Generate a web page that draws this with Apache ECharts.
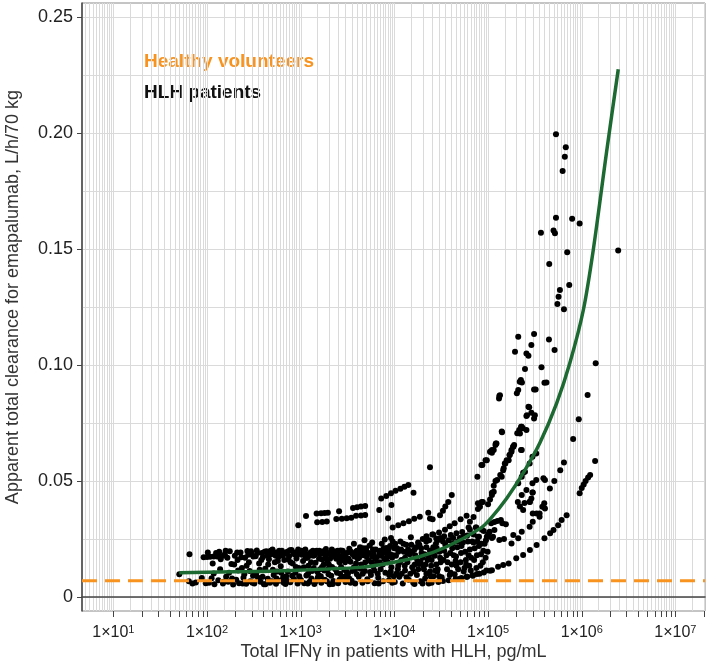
<!DOCTYPE html>
<html><head><meta charset="utf-8">
<script src="https://cdn.jsdelivr.net/npm/echarts@6/dist/echarts.min.js"></script>
<style>html,body{margin:0;padding:0;background:#fff}#c{width:709px;height:664px}</style>
</head><body><div id="c"></div>
<script>
// ---------- axis / tick data ----------
const xMin = 4.63, xMax = 2.07e7;
const yMin = -0.006, yMax = 0.256;
const xTickExponents = [1, 2, 3, 4, 5, 6, 7];
const yTickLabels = [0, 0.05, 0.10, 0.15, 0.20, 0.25];
const yGridValues = [0, 0.025, 0.05, 0.075, 0.1, 0.125, 0.15, 0.175, 0.2, 0.225, 0.25];
const healthyCL = 0.007;

// ---------- model curve ----------
const fitX = [50.6, 288, 834, 4295, 7015, 18750, 36140, 82040, 104700, 157800, 237700, 358100, 539500, 748200, 1038000, 1327000, 1845000, 2455000];
const fitY = [0.0105, 0.0110, 0.0115, 0.0128, 0.0139, 0.0175, 0.0217, 0.0295, 0.0335, 0.0425, 0.0535, 0.0665, 0.0835, 0.1010, 0.1235, 0.1495, 0.1920, 0.2275];

const lowEnd = [[50.6,0.0098],[65,0.0185],[64,0.0068],[70,0.0058],[76,0.0063],[88,0.0082],[97,0.0060],[92,0.0172],[100,0.0173],[108,0.0174],[118,0.0175],[128,0.0175],[140,0.0176],[150,0.0178]];
const bandA = [[105,0.0062],[112,0.0081],[120,0.0055],[125,0.0190],[132,0.0072],[140,0.0163],[148,0.0058],[155,0.0185],[160,0.0088],[168,0.0066],[175,0.0197],[182,0.0143],[190,0.0054],[198,0.0178],[205,0.0075],[212,0.0160],[220,0.0060],[228,0.0192],[236,0.0125],[245,0.0083],[255,0.0170],[262,0.0057],[270,0.0199],[280,0.0150],[290,0.0068],[300,0.0185],[310,0.0092],
[115,0.0145],[135,0.0195],[150,0.0066],[165,0.0170],[185,0.0080],[210,0.0192],[240,0.0058],[265,0.0135],[295,0.0198],[305,0.0062]];
const bandB = [[320,0.0058],[330,0.0176],[340,0.0201],[350,0.0083],[360,0.0145],[372,0.0066],[385,0.0190],[395,0.0172],[405,0.0055],[418,0.0122],[430,0.0198],[445,0.0079],[458,0.0163],[470,0.0062],[485,0.0185],[500,0.0205],[515,0.0095],[530,0.0150],[545,0.0057],[560,0.0192],[578,0.0173],[595,0.0070],[612,0.0133],[630,0.0200],[650,0.0085],[668,0.0160],[688,0.0056],[708,0.0188],[730,0.0110],[752,0.0176],[775,0.0064],[798,0.0203],[822,0.0145],[848,0.0078],[875,0.0192],[900,0.0166],[928,0.0059],[955,0.0125],[985,0.0198],
[335,0.0100],[380,0.0160],[440,0.0180],[490,0.0068],[540,0.0178],[600,0.0188],[660,0.0062],[720,0.0195],[780,0.0150],[860,0.0185],[940,0.0205],[990,0.0075],[420,0.0055],[560,0.0110],[700,0.0090],[880,0.0105]];
const bandC = [[1010,0.0072],[1030,0.0182],[1060,0.0155],[1090,0.0060],[1120,0.0205],[1150,0.0093],[1180,0.0170],[1210,0.0135],[1250,0.0066],[1280,0.0193],[1320,0.0112],[1360,0.0178],[1400,0.0056],[1440,0.0148],[1480,0.0200],[1520,0.0083],[1570,0.0165],[1610,0.0120],[1660,0.0062],[1710,0.0188],[1760,0.0140],[1810,0.0075],[1860,0.0207],[1920,0.0158],[1980,0.0098],[2040,0.0055],[2100,0.0183],[2160,0.0130],[2230,0.0069],[2300,0.0196],[2370,0.0172],[2440,0.0105],[2510,0.0060],[2590,0.0150],[2670,0.0201],[2750,0.0087],[2830,0.0176],[2920,0.0118],[3010,0.0065],[3100,0.0190],
[1150,0.0185],[1400,0.0180],[1700,0.0162],[2000,0.0190],[2400,0.0165],[2900,0.0183],[1300,0.0080],[1900,0.0068],[2600,0.0075],
[1100,0.0195],[1350,0.0200],[1600,0.0185],[1850,0.0175],[2150,0.0205],[2450,0.0190],[2800,0.0200],[3050,0.0170],[1200,0.0100],[1550,0.0095],[2000,0.0140],[2700,0.0130],[1450,0.0068],[2200,0.0056],[2950,0.0088]];
const bandD = [[3200,0.0100],[3300,0.0208],[3400,0.0152],[3500,0.0070],[3600,0.0185],[3700,0.0128],[3820,0.0058],[3930,0.0196],[4050,0.0166],[4170,0.0088],[4300,0.0215],[4430,0.0140],[4560,0.0062],[4700,0.0180],[4840,0.0112],[4990,0.0200],[5140,0.0077],[5300,0.0158],[5460,0.0222],[5620,0.0095],[5790,0.0175],[5970,0.0132],[6150,0.0060],[6330,0.0205],[6520,0.0148],[6720,0.0083],[6920,0.0190],[7130,0.0120],[7340,0.0230],[7560,0.0068],[7790,0.0165],[8020,0.0105],[8260,0.0212],[8510,0.0150],[8770,0.0073],[9030,0.0185],[9300,0.0128],[9580,0.0240],[9870,0.0090],
[3500,0.0190],[4000,0.0200],[4500,0.0195],[5000,0.0210],[6000,0.0185],[7000,0.0200],[8000,0.0190],[9000,0.0220],[3800,0.0118],[5500,0.0108],[7500,0.0140],[8500,0.0175],[6500,0.0172],[4200,0.0170],[3300,0.0080],[5200,0.0068],[9500,0.0062],[3700,0.0230],[5800,0.0235],[7900,0.0248],[9200,0.0255],[4800,0.0245],
[3400,0.0062],[4600,0.0100],[6800,0.0058],[8800,0.0095],[3900,0.0145],[6100,0.0115],[7700,0.0210],[9700,0.0180]];
const bandE = [[10100,0.0065],[10400,0.0178],[10700,0.0210],[11000,0.0135],[11300,0.0088],[11600,0.0240],[11900,0.0160],[12300,0.0058],[12600,0.0195],[13000,0.0115],[13400,0.0225],[13800,0.0150],[14200,0.0075],[14600,0.0185],[15000,0.0258],[15500,0.0128],[15900,0.0062],[16400,0.0205],[16900,0.0170],[17400,0.0095],[17900,0.0235],[18400,0.0142],[19000,0.0068],[19500,0.0190],[20100,0.0250],[20700,0.0120],[21300,0.0080],[22000,0.0215],[22600,0.0160],[23300,0.0058],[24000,0.0200],[24700,0.0135],[25400,0.0270],[26200,0.0090],[27000,0.0178],[27800,0.0230],[28600,0.0110],[29500,0.0065],[30300,0.0195],[31200,0.0150],
[12000,0.0100],[14000,0.0205],[16000,0.0110],[18000,0.0120],[20000,0.0170],[22000,0.0100],[25000,0.0160],[28000,0.0140],[30000,0.0090],[11000,0.0195],[13000,0.0170],[17000,0.0215],[19000,0.0150],[21000,0.0185],[24000,0.0110],[26000,0.0215],[29000,0.0245],
[16400,0.0056],[20000,0.0059],[25000,0.0062],[33000,0.0069],
[10500,0.0100],[11500,0.0150],[12500,0.0230],[13500,0.0085],[15500,0.0195],[16500,0.0140],[18500,0.0225],[21500,0.0140],[23500,0.0245],[27500,0.0200],[29000,0.0120],[31000,0.0255],
[22000,0.0262],[26000,0.0270],[30000,0.0278],[28000,0.0252]];
const bandF = [[32000,0.0085],[33500,0.0160],[35000,0.0225],[36500,0.0120],[38000,0.0072],[39500,0.0190],[41000,0.0140],[42500,0.0255],[44000,0.0098],[45500,0.0175],[47000,0.0215],[49000,0.0078],[51000,0.0150],[53000,0.0280],[55000,0.0110],[57000,0.0195],[59000,0.0088],[61000,0.0240],[63000,0.0135],[66000,0.0170],[69000,0.0092],[72000,0.0210],[75000,0.0125],[78000,0.0260],[81000,0.0100],[84000,0.0185],[88000,0.0150],[92000,0.0230],[96000,0.0115],[99000,0.0195],
[34000,0.0200],[40000,0.0105],[46000,0.0135],[52000,0.0220],[58000,0.0160],[64000,0.0205],[70000,0.0270],[76000,0.0180],[86000,0.0290],[94000,0.0170],[37000,0.0150],[43000,0.0180],[48000,0.0240],[56000,0.0125],[62000,0.0300],[68000,0.0240],[74000,0.0300],[80000,0.0220],
[34000,0.0262],[40000,0.0268],[46000,0.0275],[38000,0.0245],[42000,0.0230],[50000,0.0255],[55000,0.0262],
[64000,0.0290],[70000,0.0235],[75000,0.0300],[80000,0.0260],[90000,0.0285],[100000,0.0270],[95000,0.0245],[85000,0.0230],[110000,0.0255],[60000,0.0265]];
const bandG = [[102,0.0192],[118,0.0102],[138,0.0120],[158,0.0200],[172,0.0105],[195,0.0140],[215,0.0115],[232,0.0172],[250,0.0098],[275,0.0182],[285,0.0112],[312,0.0175],
[345,0.0190],[365,0.0118],[392,0.0088],[412,0.0195],[450,0.0140],[478,0.0200],[505,0.0118],[525,0.0192],[552,0.0080],[570,0.0155],[590,0.0200],[620,0.0105],[645,0.0178],[680,0.0190],[715,0.0070],[740,0.0162],[765,0.0202],[810,0.0092],[835,0.0188],[890,0.0130],[915,0.0180],[965,0.0090],
[1020,0.0200],[1080,0.0128],[1130,0.0168],[1190,0.0058],[1240,0.0178],[1290,0.0150],[1380,0.0125],[1420,0.0195],[1500,0.0110],[1580,0.0200],[1640,0.0090],[1690,0.0130],[1740,0.0198],[1790,0.0115],[1880,0.0190],[1950,0.0120],[2060,0.0165],[2120,0.0092],[2260,0.0180],[2340,0.0120],[2480,0.0200],[2560,0.0178],[2640,0.0100],[2720,0.0160],[2860,0.0190],[2980,0.0150],[3080,0.0110],
[3250,0.0165],[3450,0.0195],[3550,0.0112],[3750,0.0175],[3980,0.0098],[4100,0.0185],[4350,0.0122],[4650,0.0210],[4900,0.0150],[5050,0.0175],[5350,0.0190],[5700,0.0150],[5900,0.0205],[6250,0.0165],[6650,0.0100],[6950,0.0150],[7250,0.0178],[7650,0.0195],[8150,0.0160],[8650,0.0205],[9150,0.0110],[9450,0.0170],[9950,0.0210],
[10200,0.0230],[10900,0.0120],[11800,0.0205],[12900,0.0135],[13700,0.0190],[14800,0.0100],[15200,0.0225],[16700,0.0180],[17700,0.0155],[19300,0.0210],[20400,0.0135],[21900,0.0240],[23000,0.0175],[24400,0.0090],[25800,0.0185],[27300,0.0115],[28300,0.0210],[30800,0.0170],
[33000,0.0240],[36000,0.0180],[39000,0.0095],[41500,0.0210],[45000,0.0155],[48000,0.0120],[51500,0.0190],[54000,0.0235],[58500,0.0140],[62000,0.0180],[65500,0.0115],[71000,0.0160],[77000,0.0240],[83000,0.0135],[89000,0.0200],[97000,0.0260]];
const lowStreak = [[45000,0.0078],[52000,0.0082],[60000,0.0088],[68000,0.0094],[76000,0.0099],[90000,0.0106],[105000,0.0113],[110000,0.0116],[128000,0.0131],[145000,0.0138],[166000,0.0145],[200000,0.0167],[237000,0.0181],[280000,0.0203],[330000,0.0224],[400000,0.0253],[460000,0.0275],[500000,0.0289],[560000,0.0310],[610000,0.0332],[690000,0.0353]];
const upperStreaks = [[942,0.0310],[1140,0.0349],[1480,0.0360],[1650,0.0361],[1800,0.0362],[1950,0.0363],[1500,0.0322],[1700,0.0324],[1900,0.0326],[2570,0.0370],[2400,0.0336],[2750,0.0338],[3100,0.0340],[3470,0.0342],[3620,0.0384],[4000,0.0387],[4400,0.0390],[4880,0.0393],[3900,0.0350],[4400,0.0352],[4880,0.0354],[6900,0.0375],[8570,0.0340],[9300,0.0397],
[7240,0.0425],[8200,0.0436],[9200,0.0447],[10300,0.0458],[11600,0.0467],[12800,0.0475],[14100,0.0483],[16000,0.0450],
[9600,0.0300],[11000,0.0310],[12500,0.0318],[14300,0.0327],[16300,0.0337],[18700,0.0346],[23000,0.0363],[24000,0.0339],[25600,0.0335],[24000,0.0559],[41000,0.0440],
[30700,0.0353],[33000,0.0372],[35000,0.0390],[37600,0.0410],[34700,0.0290],[39000,0.0305],[44000,0.0318],[51000,0.0335],[59000,0.0350],[64000,0.0325],[70000,0.0345],[78000,0.0380],[85500,0.0410]];
const risingPts = [[77000,0.0519],[85000,0.0569],[105000,0.0626],[97000,0.0590],[123000,0.0662],[140000,0.0713],[132000,0.0866],[94000,0.0590],[87000,0.0569],[115000,0.0634],[110000,0.0622],[120000,0.0655],
[190000,0.0655],[185000,0.0648],[178000,0.0626],[170000,0.0612],[158000,0.0590],[153000,0.0576],[147000,0.0555],[135000,0.0526],[125000,0.0504],
[110000,0.0440],[115000,0.0454],[88000,0.0410],[82000,0.0389],[78000,0.0404],
[100000,0.0400],[105000,0.0420],[110000,0.0450],[115000,0.0480],[120000,0.0500],
[108000,0.0318],[117000,0.0323],[126000,0.0328],[137000,0.0332],[142000,0.0318],[155000,0.0314],[117000,0.0289],[104000,0.0282],[113000,0.0260],[132000,0.0246],[148000,0.0250],
[186000,0.0267],[210000,0.0253],[178000,0.0231],[278000,0.0303],[300000,0.0325],[229000,0.0281],[330000,0.0360],[355000,0.0360],[380000,0.0389],[398000,0.0404],
[278000,0.0411],[290000,0.0425],[229000,0.0440],[257000,0.0461],[298000,0.0451],[298000,0.0490],[327000,0.0504],[248000,0.0540],[229000,0.0519],[210000,0.0490],[278000,0.0576],[298000,0.0605],[327000,0.0619],
[208000,0.0410],[219000,0.0390],[237000,0.0375],[245000,0.0405],[300000,0.0360],[355000,0.0346],[405000,0.0382],[280000,0.0410],
[646000,0.0580],[590000,0.0547],[510000,0.0500],[457000,0.0468],[405000,0.0504],[390000,0.0512],[300000,0.0451],
[950000,0.0447],[1000000,0.0470],[1050000,0.0485],[1100000,0.0500],[1170000,0.0515],[1230000,0.0526],
[1390000,0.0586],[810000,0.0681],[930000,0.0766],[1156000,0.0871],[1410000,0.1008],
[229000,0.0734],[219000,0.0705],[257000,0.0720],[141000,0.0710],[121000,0.0662],[110000,0.0634],[186000,0.0648],[178000,0.0634],[170000,0.0612],[166000,0.0590],[229000,0.0634],[151000,0.0576],[145000,0.0547],[140000,0.0519],[237000,0.0536],
[203000,0.0878],[210000,0.0892],[218000,0.0928],[310000,0.0895],[400000,0.0924],[260000,0.0784],[270000,0.0820],[290000,0.0794],[310000,0.0770],[225000,0.0734],[235000,0.0727],[215000,0.0720],[205000,0.0706],[225000,0.0634],
[275000,0.0818],[257000,0.0780],[316000,0.0784],[134000,0.0870],[131000,0.0856],[322000,0.0895],[248000,0.0983],[372000,0.0990],[224000,0.0935],[230000,0.0925],[420000,0.0925]];
const topPts = [[531000,0.1994],[676000,0.1938],[660000,0.1897],[625000,0.1836],[531000,0.1635],[790000,0.1630],[950000,0.1610],[367000,0.1570],[500000,0.1580],[518000,0.1568],[700000,0.1486],[2450000,0.1493],[450000,0.1435],[736000,0.1345],[585000,0.1323],[566000,0.1294],[550000,0.1263],[646000,0.1240],
[210000,0.1122],[310000,0.1134],[290000,0.1086],[447000,0.1110],[513000,0.1065],[194000,0.1057],[257000,0.1050],[270000,0.1040]];

const allPts = [].concat(lowEnd, bandA, bandB, bandC, bandD, bandE, bandF, bandG, lowStreak, upperStreaks, risingPts, topPts);

// ---------- gridline & tick positions (styling) ----------
const xGridValues = [];
for (let k = 0; k <= 7; k++) for (let m = 1; m < 10; m += 0.5) { const v = m * Math.pow(10, k); if (v >= xMin && v <= xMax) xGridValues.push(v); }
const xTickValues = [];
for (let k = 1; k <= 7; k++) for (let m = 1; m < 10; m++) { const v = m * Math.pow(10, k); if (v <= xMax) xTickValues.push(v); }

const FONT = '"Liberation Sans", Arial, Helvetica, sans-serif';
const ORANGE = '#f7931e';
const GREEN = '#1c6a31';

function vLine(params, api) {
  const cs = params.coordSys;
  const x = Math.round(api.coord([api.value(0), 0.1])[0]) + 0.5;
  return { type: 'line', silent: true, shape: { x1: x, y1: cs.y, x2: x, y2: cs.y + cs.height }, style: { stroke: '#dadada', lineWidth: 1 } };
}
function hLine(params, api) {
  const cs = params.coordSys;
  const y = Math.round(api.coord([100, api.value(1)])[1]) + 0.5;
  return { type: 'line', silent: true, shape: { x1: cs.x, y1: y, x2: cs.x + cs.width, y2: y }, style: { stroke: '#dadada', lineWidth: 1 } };
}
function xTick(params, api) {
  const cs = params.coordSys;
  const x = Math.round(api.coord([api.value(0), 0.1])[0]) + 0.5;
  const yb = cs.y + cs.height;
  return { type: 'line', silent: true, shape: { x1: x, y1: yb, x2: x, y2: yb + 6 }, style: { stroke: '#444', lineWidth: 1 } };
}

const chart = echarts.init(document.getElementById('c'), null, { renderer: 'canvas' });
chart.setOption({
  animation: false,
  backgroundColor: '#fff',
  grid: { left: 82, right: 4, top: 3, bottom: 53, show: true, borderColor: '#8a8a8a', borderWidth: 1, backgroundColor: 'transparent' },
  xAxis: {
    type: 'log', logBase: 10, min: xMin, max: xMax,
    axisLine: { show: true, lineStyle: { color: '#444', width: 1.5 } },
    axisTick: { show: false },
    splitLine: { show: false },
    axisLabel: {
      show: true, showMinLabel: false, showMaxLabel: false, margin: 13, interval: 0,
      color: '#222', fontFamily: FONT, fontSize: 16, lineHeight: 18,
      formatter: function (v) {
        const e = Math.round(Math.log10(v));
        if (Math.abs(Math.log10(v) - e) > 1e-6 || xTickExponents.indexOf(e) < 0) return '';
        return '1×10{s|' + e + '}';
      },
      rich: { s: { fontSize: 11, fontFamily: FONT, color: '#222', verticalAlign: 'top', lineHeight: 11 } }
    }
  },
  yAxis: {
    type: 'value', min: yMin, max: yMax,
    axisLine: { show: true, lineStyle: { color: '#444', width: 1.5 } },
    axisTick: { show: true, length: 5, customValues: yTickLabels, lineStyle: { color: '#444' } },
    splitLine: { show: false },
    axisLabel: {
      customValues: yTickLabels, margin: 9, color: '#222', fontFamily: FONT, fontSize: 18,
      formatter: v => (v === 0 ? '0' : v.toFixed(2))
    }
  },
  graphic: [
    { type: 'text', left: 144, top: 52, style: { text: 'Healthy volunteers', fill: ORANGE, font: 'bold 19px ' + FONT } },
    { type: 'text', left: 144, top: 83, style: { text: 'HLH patients', fill: '#111', font: 'bold 19px ' + FONT } },
    { type: 'text', x: 393.5, y: 652, style: { text: 'Total IFNγ in patients with HLH, pg/mL', fill: '#333', font: '18px ' + FONT, align: 'center', verticalAlign: 'middle' } },
    { type: 'text', x: 13, y: 297, rotation: Math.PI / 2, style: { text: 'Apparent total clearance for emapalumab, L/h/70 kg', fill: '#333', font: '18px ' + FONT, align: 'center', verticalAlign: 'middle' } }
  ],
  series: [
    { type: 'custom', name: 'vgrid', renderItem: vLine, data: xGridValues.map(v => [v, 0.1]), z: 0, silent: true, clip: false },
    { type: 'custom', name: 'hgrid', renderItem: hLine, data: yGridValues.map(v => [100, v]), z: 0, silent: true, clip: false },
    { type: 'custom', name: 'xticks', renderItem: xTick, data: xTickValues.map(v => [v, 0.1]), z: 5, silent: true, clip: false },
    { type: 'scatter', name: 'HLH patients', data: allPts, symbol: 'circle', symbolSize: 6, itemStyle: { color: '#000', opacity: 1 }, z: 2, silent: true, large: false },
    { type: 'line', name: 'Healthy volunteers', data: [[xMin, healthyCL], [xMax, healthyCL]], symbol: 'none', lineStyle: { color: ORANGE, width: 3, type: [15, 8] }, z: 3, silent: true },
    { type: 'line', name: 'model', data: fitX.map((x, i) => [x, fitY[i]]), symbol: 'none', smooth: 0.3, lineStyle: { color: GREEN, width: 3.5 }, z: 4, silent: true }
  ]
});
</script></body></html>
